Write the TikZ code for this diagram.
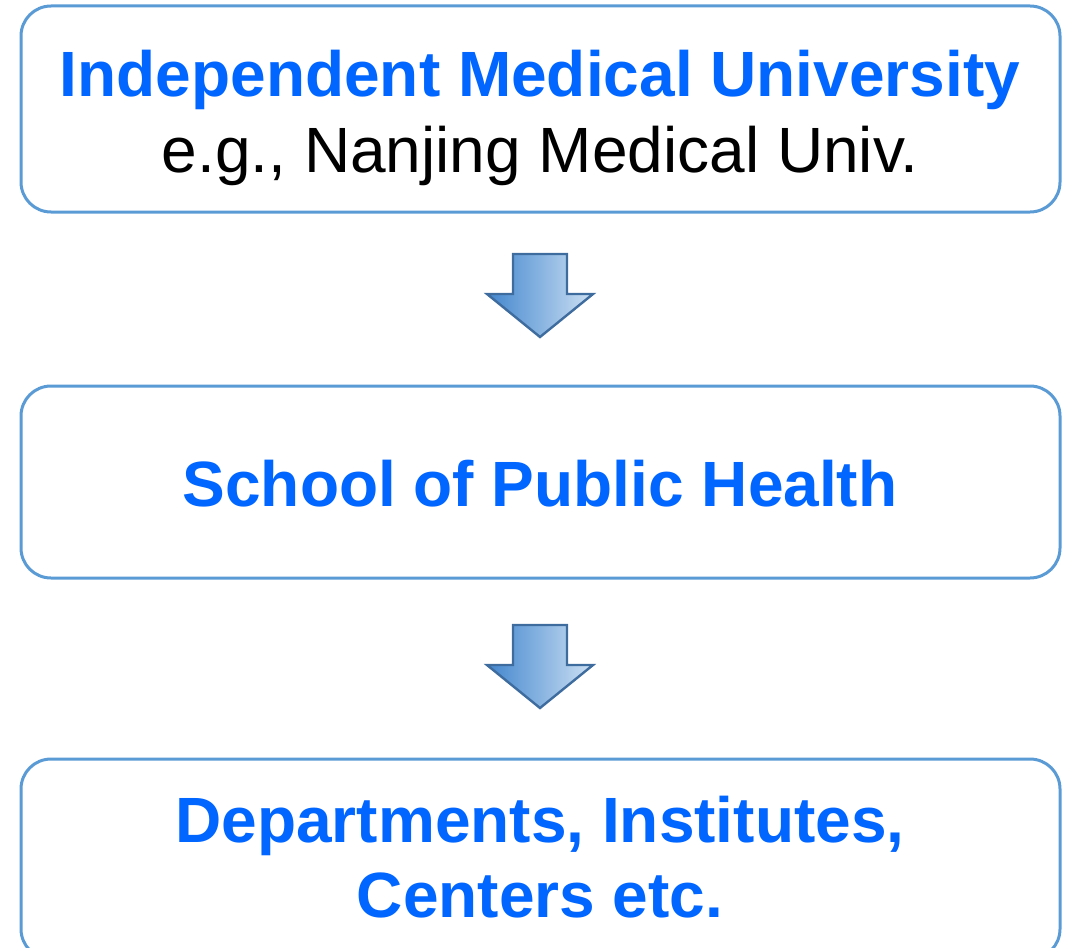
\documentclass[tikz,border=0pt]{standalone}
\usepackage{fontspec}
\setmainfont{Liberation Sans}
\definecolor{boxline}{RGB}{91,155,213}
\definecolor{txtblue}{RGB}{0,102,255}
\definecolor{arrline}{RGB}{62,108,158}
\definecolor{arrleft}{RGB}{66,134,206}
\definecolor{arrmid}{RGB}{88,150,214}
\definecolor{arrright}{RGB}{205,224,243}
\tikzset{
  boxnode/.style={draw=boxline, line width=1.5pt, rounded corners=15pt, fill=white,
    minimum width=519.5pt, inner sep=0pt},
  bluebold/.style={anchor=base, text=txtblue, font=\fontsize{32}{38}\selectfont\bfseries, inner sep=0pt},
  blackreg/.style={anchor=base, text=black, font=\fontsize{32}{38}\selectfont, inner sep=0pt},
  blockarrow/.style={draw=arrline, line width=1.2pt, line join=miter,
    left color=arrleft, middle color=arrmid, right color=arrright},
}
\begin{document}
\begin{tikzpicture}[x=0.5pt, y=-0.5pt]
\useasboundingbox (0,0) rectangle (1069,947);
% boxes
\node[boxnode, minimum height=103pt] (b1) at (540.5,109) {};
\node[boxnode, minimum height=96pt] (b2) at (540.5,482) {};
\node[boxnode, minimum height=100pt] (b3) at (540.5,859) {};
% texts
\node[bluebold] (t1) at (540,97) {Independent Medical University};
\node[blackreg] (t1b) at (540,172) {e.g., Nanjing Medical Univ.};
\node[bluebold] (t2) at (540,506) {School of Public Health};
\node[bluebold] (t3a) at (540,842) {Departments, Institutes,};
\node[bluebold] (t3b) at (540,917) {Centers etc.};
% block arrows between boxes
\coordinate (a1) at (540,254);
\coordinate (a2) at (540,625);
\foreach \c in {a1,a2}{
  \path[blockarrow] ([xshift=-13.5pt]\c) -- ([xshift=13.5pt]\c)
    -- ([xshift=13.5pt,yshift=-20pt]\c) -- ([xshift=26.5pt,yshift=-20pt]\c)
    -- ([yshift=-41.5pt]\c) -- ([xshift=-26.5pt,yshift=-20pt]\c)
    -- ([xshift=-13.5pt,yshift=-20pt]\c) -- cycle;
}
\end{tikzpicture}
\end{document}
